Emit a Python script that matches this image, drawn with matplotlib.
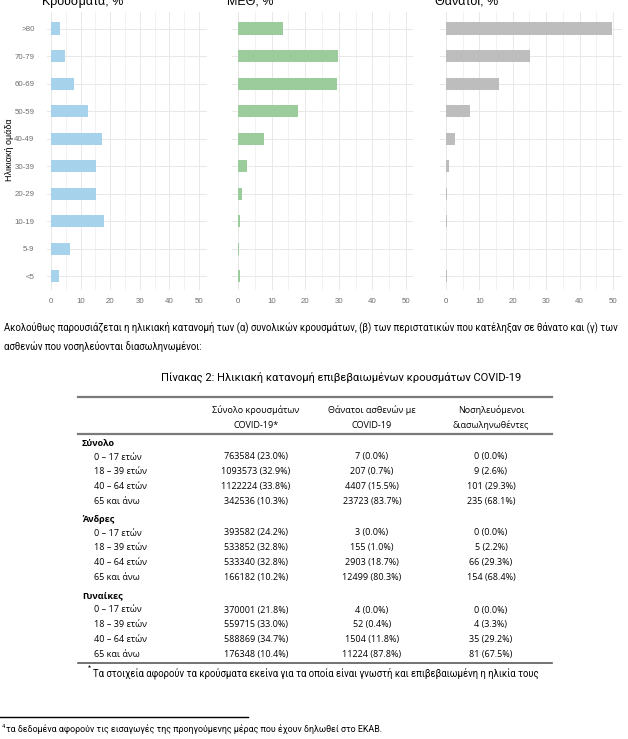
import matplotlib.pyplot as plt
import numpy as np

# age groups, bottom to top
ages = ['<5', '5-9', '10-19', '20-29', '30-39', '40-49', '50-59', '60-69', '70-79', '>80']
cases = [2.8, 6.4, 17.9, 15.1, 15.2, 17.1, 12.4, 7.8, 4.7, 3.0]
icu = [0.5, 0.2, 0.5, 1.1, 2.6, 7.7, 17.9, 29.6, 29.8, 13.4]
deaths = [0.2, 0.05, 0.2, 0.2, 0.8, 2.7, 7.2, 15.8, 25.3, 49.6]

titles = ['Κρούσματα, %', 'ΜΕΘ, %', 'Θάνατοι, %']
colors = ['#a6d2ec', '#9ccb9c', '#bdbdbd']

# table
col_headers = [('Σύνολο κρουσμάτων', 'COVID-19*'),
               ('Θάνατοι ασθενών με', 'COVID-19'),
               ('Νοσηλευόμενοι', 'διασωληνωθέντες')]
groups = ['Σύνολο', 'Άνδρες', 'Γυναίκες']
row_labels = ['0 – 17 ετών', '18 – 39 ετών', '40 – 64 ετών', '65 και άνω']
tot_cases = ['763584 (23.0%)', '1093573 (32.9%)', '1122224 (33.8%)', '342536 (10.3%)']
tot_deaths = ['7 (0.0%)', '207 (0.7%)', '4407 (15.5%)', '23723 (83.7%)']
tot_icu = ['0 (0.0%)', '9 (2.6%)', '101 (29.3%)', '235 (68.1%)']
men_cases = ['393582 (24.2%)', '533852 (32.8%)', '533340 (32.8%)', '166182 (10.2%)']
men_deaths = ['3 (0.0%)', '155 (1.0%)', '2903 (18.7%)', '12499 (80.3%)']
men_icu = ['0 (0.0%)', '5 (2.2%)', '66 (29.3%)', '154 (68.4%)']
wom_cases = ['370001 (21.8%)', '559715 (33.0%)', '588869 (34.7%)', '176348 (10.4%)']
wom_deaths = ['4 (0.0%)', '52 (0.4%)', '1504 (11.8%)', '11224 (87.8%)']
wom_icu = ['0 (0.0%)', '4 (3.3%)', '35 (29.2%)', '81 (67.5%)']

W, H = 628, 739
fig = plt.figure(figsize=(W / 100, H / 100), dpi=100)

chart_font = 'Liberation Sans'
doc_font = 'Open Sans'

# panels: (left px, right px, xlim)
panels = [(47, 207, (-1.35, 52.7)),
          (232, 413, (-1.8, 52.1)),
          (440, 622, (-1.8, 52.7))]
top_px, bot_px = 12, 290
y = np.arange(len(ages))

for i, (vals, (lpx, rpx, xl)) in enumerate(zip([cases, icu, deaths], panels)):
    ax = fig.add_axes([lpx / W, 1 - bot_px / H, (rpx - lpx) / W, (bot_px - top_px) / H])
    ax.barh(y, vals, height=0.44, color=colors[i], zorder=3)
    ax.set_xlim(*xl)
    ax.set_ylim(-0.5, 9.6)
    ax.set_xticks(np.arange(0, 51, 10))
    ax.set_xticks(np.arange(5, 51, 10), minor=True)
    ax.set_yticks(y)
    ax.grid(True, which='major', color='#e8e8e8', lw=0.7, zorder=0)
    ax.grid(True, which='minor', axis='x', color='#f0f0f0', lw=0.6, zorder=0)
    for s in ax.spines.values():
        s.set_visible(False)
    ax.tick_params(length=0, labelsize=5.7, labelcolor='#6e6e6e', pad=6)
    ax.tick_params(which='minor', length=0)
    for lab in ax.get_xticklabels():
        lab.set_family(chart_font)
    if i == 0:
        ax.set_yticklabels(ages, family=chart_font)
        ax.tick_params(axis='y', pad=9)
    else:
        ax.set_yticklabels([])
    # titles sit partly above the page edge, as in the source
    fig.text((lpx - 5) / W, 1 - 1 / H, titles[i], fontsize=9, family=chart_font,
             ha='left', va='center')

fig.text(10 / W, 1 - 150 / H, 'Ηλικιακή ομάδα', rotation=90, fontsize=6.5,
         family=chart_font, ha='center', va='center')

# page overlay in pixel coordinates
pg = fig.add_axes([0, 0, 1, 1], zorder=-1)
pg.set_xlim(0, W)
pg.set_ylim(H, 0)
pg.axis('off')

pg.text(4, 327, 'Ακολούθως παρουσιάζεται η ηλικιακή κατανομή των (α) συνολικών κρουσμάτων, '
        '(β) των περιστατικών που κατέληξαν σε θάνατο και (γ) των',
        fontsize=6.85, family='Roboto', va='center', ha='left')
pg.text(4, 347, 'ασθενών που νοσηλεύονται διασωληνωμένοι:',
        fontsize=6.85, family='Roboto', va='center', ha='left')

pg.text(341, 377, 'Πίνακας 2: Ηλικιακή κατανομή επιβεβαιωμένων κρουσμάτων COVID-19',
        fontsize=8, family='Roboto', va='center', ha='center')

col_x = [256, 372, 491]
for cx, (h1, h2) in zip(col_x, col_headers):
    pg.text(cx, 410, h1, fontsize=6.5, family=doc_font, ha='center', va='center')
    pg.text(cx, 425, h2, fontsize=6.5, family=doc_font, ha='center', va='center')

pg.plot([78, 552], [397, 397], color='#7a7a7a', lw=1.6)
pg.plot([78, 552], [434, 434], color='#7a7a7a', lw=1.6)
pg.plot([78, 552], [663, 663], color='#5a5a5a', lw=1.2)

group_y = [443, 519, 596]
data = [(tot_cases, tot_deaths, tot_icu),
        (men_cases, men_deaths, men_icu),
        (wom_cases, wom_deaths, wom_icu)]
for gy, g, cols in zip(group_y, groups, data):
    pg.text(82, gy, g, fontsize=6.5, family=doc_font, weight='bold', ha='left', va='center')
    for k, lab in enumerate(row_labels):
        ry = gy + 14 + k * 14.8
        pg.text(94, ry, lab, fontsize=6.5, family=doc_font, ha='left', va='center')
        for cx, col in zip(col_x, cols):
            pg.text(cx, ry, col[k], fontsize=6.5, family=doc_font, ha='center', va='center')

pg.text(88, 668, '*', fontsize=5, family='Roboto', ha='left', va='center')
pg.text(93, 673, 'Τα στοιχεία αφορούν τα κρούσματα εκείνα για τα οποία είναι γνωστή '
        'και επιβεβαιωμένη η ηλικία τους', fontsize=6.85, family='Roboto',
        ha='left', va='center')

pg.plot([0, 248], [717, 717], color='black', lw=1)
pg.text(2, 726, '4', fontsize=4, family='Roboto', ha='left', va='center')
pg.text(6, 729, 'τα δεδομένα αφορούν τις εισαγωγές της προηγούμενης μέρας που έχουν '
        'δηλωθεί στο ΕΚΑΒ.', fontsize=6.4, family='Roboto', ha='left', va='center')

fig.savefig('out.png', dpi=100)
